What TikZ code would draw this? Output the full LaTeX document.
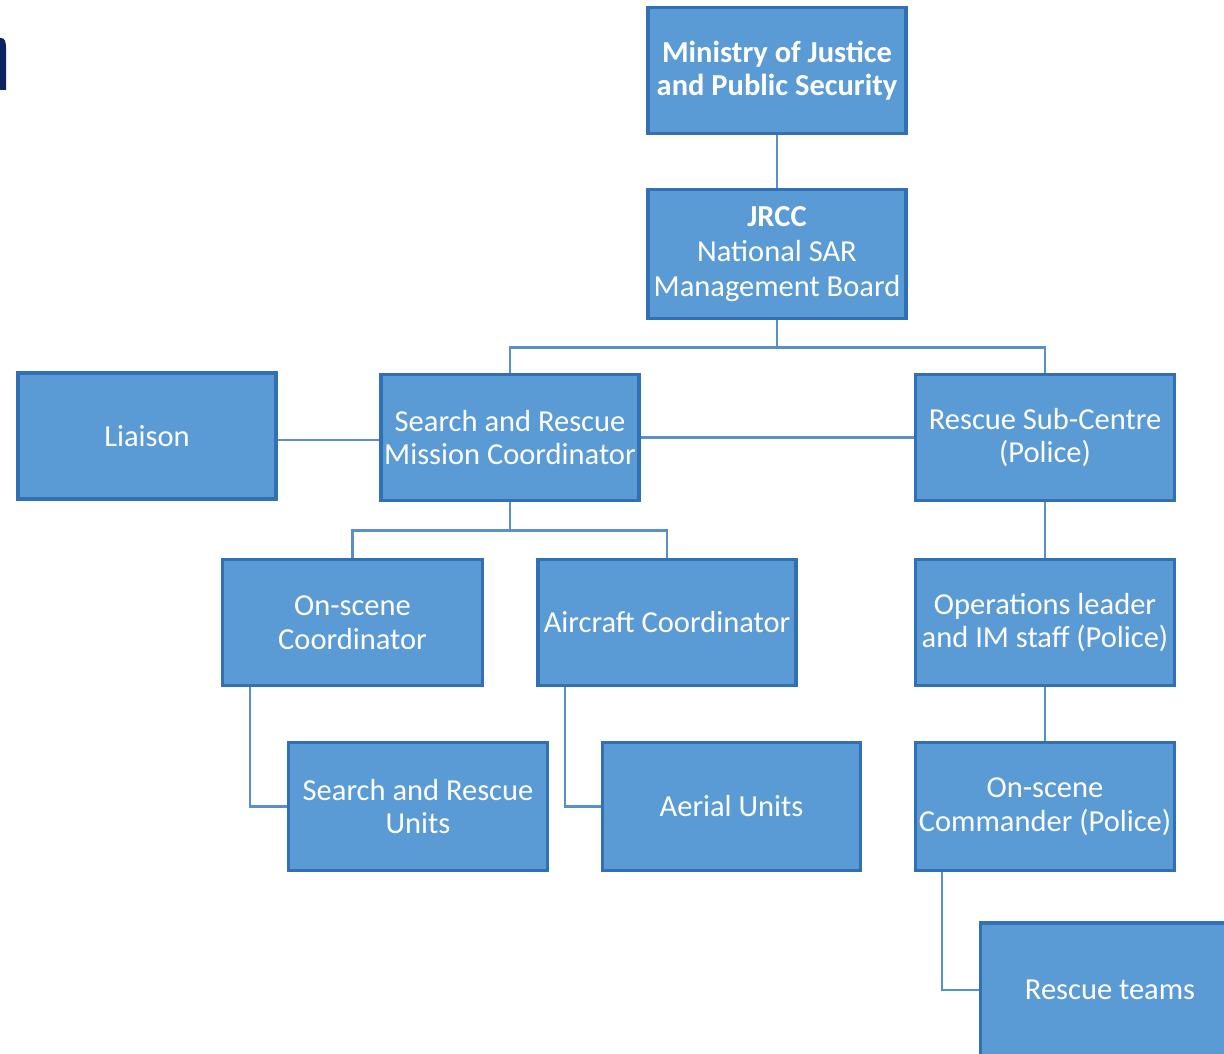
\documentclass[tikz,border=0pt]{standalone}
\usepackage{fontspec}
\setmainfont{Carlito}
\definecolor{boxfill}{HTML}{5B9BD5}
\definecolor{boxedge}{HTML}{3170B4}
\definecolor{linkcol}{HTML}{5A90C8}
\definecolor{navy}{HTML}{0B2461}
\tikzset{
  box/.style={draw=boxedge, fill=boxfill, line width=3.5pt, text=white,
    minimum width=258pt, minimum height=126pt, align=center, inner sep=1pt,
    font=\fontsize{30.5}{33.5}\selectfont},
  link/.style={draw=linkcol, line width=2.5pt}
}
\begin{document}
\begin{tikzpicture}[x=1pt,y=-1pt]
\useasboundingbox (0,0) rectangle (1224,1054);
\fill[white] (0,0) rectangle (1224,1054);
\clip (0,0) rectangle (1224,1054);
% partial glyph at top left
\fill[navy] (0,38) -- (1,38) .. controls (5,38) and (6,42) .. (6,48) -- (6,90) -- (0,90) -- cycle;

\node[box, font=\fontsize{30.5}{33.5}\selectfont\bfseries] (min) at (777,70.5) {Ministry of Justice\\and Public Security};
\node[box, minimum height=129pt, font=\fontsize{30.5}{35}\selectfont] (jrcc) at (777,254) {\textbf{JRCC}\\National SAR\\Management Board};
\node[box] (lia) at (147,436) {Liaison};
\node[box] (sarmc) at (510,437.5) {Search and Rescue\\Mission Coordinator};
\node[box, minimum width=259pt] (rsc) at (1045,437.5) {Rescue Sub-Centre\\(Police)};
\node[box, minimum width=260pt] (osc) at (352.5,622.5) {On-scene\\Coordinator};
\node[box] (acc) at (667,622.5) {Aircraft Coordinator};
\node[box, minimum width=259pt] (ops) at (1045,622.5) {Operations leader\\and IM staff (Police)};
\node[box, minimum width=259pt, minimum height=128pt] (sru) at (418,806.5) {Search and Rescue\\Units};
\node[box, minimum width=258pt, minimum height=128pt] (aer) at (731.5,806.5) {Aerial Units};
\node[box, minimum width=259pt, minimum height=128pt] (cmd) at (1045,806.5) {On-scene\\Commander (Police)};
\node[box, minimum width=259pt, minimum height=134pt] (rt) at (1110,990) {Rescue teams};

\draw[link] (min.south) -- (jrcc.north);
\draw[link] (jrcc.south) -- ++(0,27) coordinate (j1);
\draw[link] (sarmc.north) |- (j1) -| (rsc.north);
\draw[link] (lia.east) ++(0,4) coordinate (l1) -- (l1 -| sarmc.west);
\draw[link] (sarmc.east) -- (rsc.west);
\draw[link] (sarmc.south) -- ++(0,28) coordinate (s1);
\draw[link] (osc.north) |- (s1) -| (acc.north);
\draw[link] ([xshift=-102.5pt]osc.south) |- (sru.west);
\draw[link] ([xshift=-102pt]acc.south) |- (aer.west);
\draw[link] (rsc.south) -- (ops.north);
\draw[link] (ops.south) -- (cmd.north);
\draw[link] ([xshift=-103pt]cmd.south) |- (rt.west);
\end{tikzpicture}
\end{document}
